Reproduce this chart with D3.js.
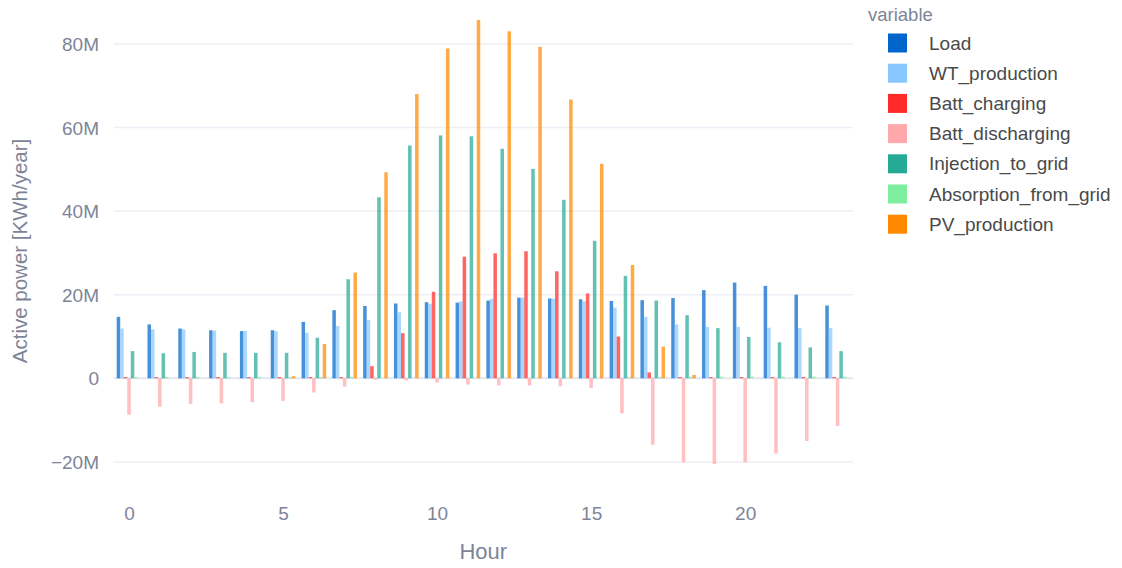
<!DOCTYPE html>
<html><head><meta charset="utf-8">
<script src="https://cdn.jsdelivr.net/npm/d3@7"></script>
<style>
html,body{margin:0;padding:0;background:#fff;}
svg{display:block;font-family:"Liberation Sans",Arial,sans-serif;}
</style></head>
<body><svg id="chart" width="1122" height="568"></svg>
<script>
const hours = d3.range(0, 24);
const seriesNames = ["Load","WT_production","Batt_charging","Batt_discharging","Injection_to_grid","Absorption_from_grid","PV_production"];
const seriesColors = ["#0066cc","#88c8ff","#ff2a2a","#ffa8ab","#26a995","#7ded9e","#ff8800"];
const load = [14.7,12.9,11.9,11.5,11.3,11.5,13.5,16.3,17.3,17.9,18.2,18.1,18.6,19.3,19.1,18.9,18.5,18.7,19.2,21.1,22.9,22.1,20.0,17.4];
const wtProduction = [11.9,11.7,11.7,11.4,11.3,11.3,10.9,12.5,13.9,15.8,17.8,18.4,19.0,19.3,19.1,18.4,16.9,14.7,12.9,12.3,12.3,12.1,12.0,12.0];
const battCharging = [0.3,0.3,0.3,0.3,0.3,0.3,0.3,0.3,2.9,10.8,20.7,29.1,29.9,30.4,25.6,20.3,10.0,1.4,0.3,0.3,0.3,0.3,0.3,0.3];
const battDischarging = [-8.7,-6.8,-6.1,-6.0,-5.7,-5.4,-3.4,-2.0,-0.4,-0.5,-1.0,-1.5,-1.7,-1.7,-1.9,-2.3,-8.4,-15.9,-20.1,-20.5,-20.1,-18.0,-15.0,-11.4];
const injectionToGrid = [6.5,6.0,6.3,6.1,6.1,6.1,9.7,23.7,43.3,55.7,58.1,57.9,54.9,50.1,42.7,32.9,24.5,18.6,15.1,12.0,9.9,8.6,7.4,6.5];
const absorptionFromGrid = [0.3,0.3,0.3,0.3,0.3,0.3,0.3,0.3,0,0,0,0,0,0,0,0,0.2,0.3,0.4,0.4,0.4,0.4,0.4,0.4];
const pvProduction = [0,0,0,0,0,0.5,8.2,25.3,49.3,68.0,78.9,85.7,83.0,79.3,66.7,51.3,27.1,7.6,0.8,0,0,0,0,0];
const xTicks = [0,5,10,15,20];
const yTicks = [-20,0,20,40,60,80];
const yTickLabels = ["\u221220M","0","20M","40M","60M","80M"];

const seriesValues = [load, wtProduction, battCharging, battDischarging, injectionToGrid, absorptionFromGrid, pvProduction];
const M = 1e6;

const svg = d3.select("#chart");
const left = 113.6, right = 853;
const x = d3.scaleLinear().domain([-0.5, 23.5]).range([left, right]);
const step = x(1) - x(0);
const inner = d3.scaleBand().domain(seriesNames).range([-step*0.4, step*0.4]).paddingInner(0);
const pxPerM = 4.18;
const y0 = 378.3;
const yTop = 91, yBot = -26;
const y = d3.scaleLinear().domain([yBot*M, yTop*M]).range([y0 - yBot*pxPerM, y0 - yTop*pxPerM]);

// gridlines
const grid = svg.append("g");
yTicks.forEach(t => {
  grid.append("line").attr("x1", left).attr("x2", right)
    .attr("y1", y(t*M)).attr("y2", y(t*M))
    .attr("stroke", t === 0 ? "#e3e7ef" : "#ecEff5").attr("stroke-width", t===0 ? 2 : 1.5);
});

// y tick labels
const yAxis = d3.axisLeft(y).tickValues(yTicks.map(t => t*M)).tickFormat((d,i) => yTickLabels[i]).tickSize(0).tickPadding(0);
const gy = svg.append("g").attr("transform", `translate(${99},0)`).call(yAxis);
gy.select(".domain").remove();
gy.selectAll("text").attr("font-size", 19).attr("fill", "#7e8497").attr("font-family", "Liberation Sans, Arial, sans-serif").attr("dy","0.35em");

// x tick labels
const xAxis = d3.axisBottom(x).tickValues(xTicks).tickFormat(d3.format("d")).tickSize(0).tickPadding(0);
const gx = svg.append("g").attr("transform", `translate(0,${506})`).call(xAxis);
gx.select(".domain").remove();
gx.selectAll("text").attr("font-size", 19).attr("fill", "#7e8497").attr("font-family", "Liberation Sans, Arial, sans-serif").attr("dy","0.71em");

// bars
seriesNames.forEach((name, si) => {
  svg.append("g").selectAll("rect").data(hours).join("rect")
    .attr("x", h => x(h) + inner(name))
    .attr("width", inner.bandwidth())
    .attr("y", h => y(Math.max(0, seriesValues[si][h]*M)))
    .attr("height", h => Math.abs(y(seriesValues[si][h]*M) - y(0)))
    .attr("fill", seriesColors[si])
    .attr("opacity", 0.72);
});

// axis titles
svg.append("text").attr("x", (left+right)/2).attr("y", 559).attr("text-anchor","middle")
  .attr("font-size", 22).attr("fill", "#7e8497").text("Hour");
svg.append("text").attr("transform", `translate(27,${251}) rotate(-90)`).attr("text-anchor","middle")
  .attr("font-size", 20.5).attr("fill", "#7e8497").text("Active power [KWh/year]");

// legend
const lg = svg.append("g");
lg.append("text").attr("x", 868).attr("y", 21).attr("font-size", 18.5).attr("fill", "#7e8497").text("variable");
seriesNames.forEach((name, i) => {
  const cy = 43 + i*30.2;
  lg.append("rect").attr("x", 888).attr("y", cy - 9.5).attr("width", 19).attr("height", 19).attr("fill", seriesColors[i]);
  lg.append("text").attr("x", 929).attr("y", cy).attr("dy","0.35em").attr("font-size", 19).attr("fill", "#4a4a4a").text(name);
});
</script>
</body></html>
